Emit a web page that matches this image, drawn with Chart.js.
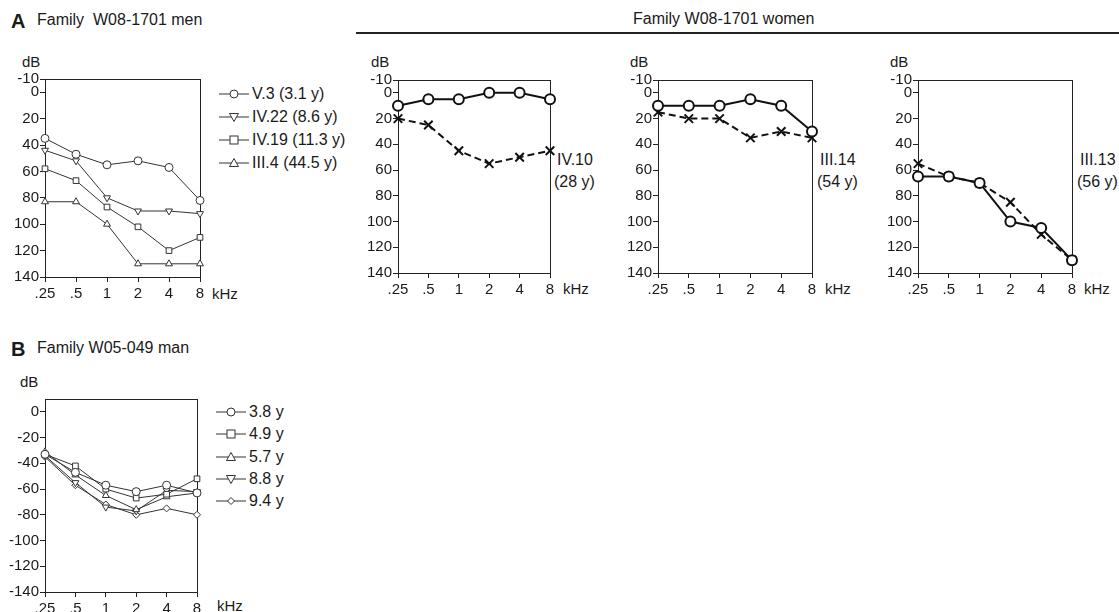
<!DOCTYPE html>
<html lang="en">
<head>
<meta charset="UTF-8">
<title>Audiograms W08-1701 / W05-049</title>
<script src="https://cdn.jsdelivr.net/npm/chart.js"></script>
<style>
    body {
        margin: 0;
        width: 1119px;
        height: 612px;
        position: relative;
        overflow: hidden;
        background: #fff;
        font-family: "Liberation Sans", Arial, sans-serif;
        color: #1a1a1a;
    }
    .t { position: absolute; white-space: nowrap; line-height: 1; font-size: 16px; }
    .letter { font-weight: bold; font-size: 20px; }
    .small { font-size: 15px; }
    canvas { position: absolute; }
    .rule { position: absolute; left: 356px; top: 32px; width: 763px; height: 1.5px; background: #222; }
    .legend { position: absolute; }
    .legend div { height: 16px; display: flex; align-items: center; font-size: 16px; white-space: nowrap; }
    .legend svg { margin-right: 2px; }
</style>
</head>
<body>

<!-- panel A headings -->
<div class="t letter" style="left:11px; top:11px;">A</div>
<div class="t" style="left:37px; top:12px;">Family&nbsp; W08-1701 men</div>
<div class="t" style="left:633px; top:11px;">Family W08-1701 women</div>
<div class="rule"></div>

<div class="t small" style="left:22px; top:54px;">dB</div>
<div class="t small" style="left:371px; top:54px;">dB</div>
<div class="t small" style="left:630px; top:54px;">dB</div>
<div class="t small" style="left:890px; top:54px;">dB</div>

<div class="t small" style="left:212px; top:286px;">kHz</div>
<div class="t small" style="left:563px; top:281px;">kHz</div>
<div class="t small" style="left:825px; top:281px;">kHz</div>
<div class="t small" style="left:1084px; top:281px;">kHz</div>

<div class="t" style="left:557px; top:152px;">IV.10</div>
<div class="t" style="left:554px; top:174px;">(28 y)</div>
<div class="t" style="left:820px; top:152px;">III.14</div>
<div class="t" style="left:817px; top:174px;">(54 y)</div>
<div class="t" style="left:1080px; top:152px;">III.13</div>
<div class="t" style="left:1077px; top:174px;">(56 y)</div>

<!-- panel B headings -->
<div class="t letter" style="left:11px; top:339px;">B</div>
<div class="t" style="left:37px; top:340px;">Family W05-049 man</div>
<div class="t small" style="left:20px; top:374px;">dB</div>
<div class="t small" style="left:217px; top:598px;">kHz</div>

<canvas id="menChart"></canvas>
<canvas id="iv10Chart"></canvas>
<canvas id="iii14Chart"></canvas>
<canvas id="iii13Chart"></canvas>
<canvas id="manChart"></canvas>

<div class="legend" id="menLegend" style="left:219px; top:86px;"></div>
<div class="legend" id="manLegend" style="left:216px; top:404px;"></div>

<script>
    // frequencies (kHz)
    const freqLabels = ['.25', '.5', '1', '2', '4', '8'];

    // A - men, hearing level dB
    const menNames = ['V.3 (3.1 y)', 'IV.22 (8.6 y)', 'IV.19 (11.3 y)', 'III.4 (44.5 y)'];
    const v3 = [35, 47, 55, 52, 57, 82];
    const iv22 = [44, 52, 80, 90, 90, 92];
    const iv19 = [58, 67, 87, 102, 120, 110];
    const iii4 = [83, 83, 100, 130, 130, 130];

    // A - women, circles and crosses
    const iv10Circle = [10, 5, 5, 0, 0, 5];
    const iv10Cross = [20, 25, 45, 55, 50, 45];
    const iii14Circle = [10, 10, 10, 5, 10, 30];
    const iii14Cross = [15, 20, 20, 35, 30, 35];
    const iii13Circle = [65, 65, 70, 100, 105, 130];
    const iii13Cross = [55, 65, 70, 85, 110, 130];

    // B - one man at five ages
    const manNames = ['3.8 y', '4.9 y', '5.7 y', '8.8 y', '9.4 y'];
    const age38 = [-33, -47, -57, -62, -57, -63];
    const age49 = [-33, -42, -60, -67, -64, -52];
    const age57 = [-31, -49, -65, -76, -66, -63];
    const age88 = [-34, -55, -74, -77, -61, -62];
    const age94 = [-35, -57, -72, -80, -75, -80];

    const ticksA = [-10, 0, 20, 40, 60, 80, 100, 120, 140];
    const ticksB = [0, -20, -40, -60, -80, -100, -120, -140];

    Chart.defaults.font.family = '"Liberation Sans", Arial, sans-serif';
    Chart.defaults.color = '#1a1a1a';

    const frame = {
        id: 'frame',
        beforeDatasetsDraw(chart) {
            const a = chart.chartArea, c = chart.ctx;
            c.save();
            c.strokeStyle = '#222';
            c.lineWidth = 1;
            c.strokeRect(Math.round(a.left) + 0.5, Math.round(a.top) + 0.5,
                Math.round(a.right - a.left), Math.round(a.bottom - a.top));
            c.restore();
        }
    };

    // thin lines for the multi-series panels
    function thin(data, style, rot) {
        return {
            data: data, borderColor: '#333', borderWidth: 1, tension: 0, clip: false,
            pointStyle: style, pointRotation: rot || 0, pointRadius: style === 'rectRot' ? 3.5 : 4,
            pointBorderWidth: 1, pointBorderColor: '#333', pointBackgroundColor: '#fff'
        };
    }
    // heavy lines for the women panels
    function heavy(data, cross) {
        return {
            data: data, borderColor: '#111', borderWidth: 2, tension: 0, clip: false,
            borderDash: cross ? [7, 4] : [],
            pointStyle: cross ? 'crossRot' : 'circle', pointRadius: cross ? 6 : 5,
            pointBorderWidth: 2, pointBorderColor: '#111', pointBackgroundColor: '#fff'
        };
    }

    function audiogram(id, box, yMin, yMax, reverse, yTicks, datasets) {
        const cv = document.getElementById(id);
        cv.width = box.w + 54;
        cv.height = box.h + 34;
        cv.style.left = (box.x - 44) + 'px';
        cv.style.top = (box.y - 10) + 'px';
        const grid = { drawOnChartArea: false, drawTicks: true, tickLength: 5, color: '#222' };
        return new Chart(cv, {
            type: 'line',
            data: { labels: freqLabels, datasets: datasets },
            options: {
                responsive: false,
                animation: false,
                layout: { padding: { top: 10, right: 10, left: 0, bottom: 0 } },
                plugins: { legend: { display: false }, tooltip: { enabled: false } },
                scales: {
                    x: {
                        offset: false,
                        grid: grid,
                        border: { display: false },
                        ticks: { font: { size: 15 }, padding: 3, maxRotation: 0, autoSkip: false },
                        afterFit: s => { s.height = 24; }
                    },
                    y: {
                        type: 'linear', min: yMin, max: yMax, reverse: reverse,
                        grid: grid,
                        border: { display: false },
                        afterBuildTicks: s => { s.ticks = yTicks.map(v => ({ value: v })); },
                        ticks: { font: { size: 15 }, padding: 1, autoSkip: false },
                        afterFit: s => { s.width = 44; }
                    }
                }
            },
            plugins: [frame]
        });
    }

    audiogram('menChart', { x: 45, y: 79, w: 155, h: 198 }, -10, 140, true, ticksA, [
        thin(v3, 'circle'), thin(iv22, 'triangle', 180), thin(iv19, 'rect'), thin(iii4, 'triangle')
    ]);
    audiogram('iv10Chart', { x: 398, y: 80, w: 152, h: 193 }, -10, 140, true, ticksA, [
        heavy(iv10Circle, false), heavy(iv10Cross, true)
    ]);
    audiogram('iii14Chart', { x: 658, y: 80, w: 154, h: 193 }, -10, 140, true, ticksA, [
        heavy(iii14Circle, false), heavy(iii14Cross, true)
    ]);
    audiogram('iii13Chart', { x: 918, y: 80, w: 154, h: 193 }, -10, 140, true, ticksA, [
        heavy(iii13Circle, false), heavy(iii13Cross, true)
    ]);
    audiogram('manChart', { x: 45, y: 399, w: 152, h: 193 }, -140, 10, false, ticksB, [
        thin(age38, 'circle'), thin(age49, 'rect'), thin(age57, 'triangle'),
        thin(age88, 'triangle', 180), thin(age94, 'rectRot')
    ]);

    // legends: a short line with the marker on it, then the name
    function markerSvg(style) {
        const s = 'fill="#fff" stroke="#333" stroke-width="1"';
        let m = '';
        if (style === 'circle') m = `<circle cx="15" cy="8" r="4" ${s}/>`;
        if (style === 'rect') m = `<rect x="11" y="4" width="8" height="8" ${s}/>`;
        if (style === 'up') m = `<polygon points="15,3.5 19.5,11.5 10.5,11.5" ${s}/>`;
        if (style === 'down') m = `<polygon points="15,12.5 19.5,4.5 10.5,4.5" ${s}/>`;
        if (style === 'diamond') m = `<polygon points="15,4.5 18.5,8 15,11.5 11.5,8" ${s}/>`;
        return `<svg width="31" height="16"><line x1="0" y1="8" x2="30" y2="8" stroke="#333" stroke-width="1"/>${m}</svg>`;
    }
    function legend(id, names, styles, rowH) {
        const el = document.getElementById(id);
        names.forEach((n, i) => {
            const row = document.createElement('div');
            row.style.marginBottom = (rowH - 16) + 'px';
            row.innerHTML = markerSvg(styles[i]) + '<span>' + n + '</span>';
            el.appendChild(row);
        });
    }
    legend('menLegend', menNames, ['circle', 'down', 'rect', 'up'], 23);
    legend('manLegend', manNames, ['circle', 'rect', 'up', 'down', 'diamond'], 22.3);
</script>

</body>
</html>
